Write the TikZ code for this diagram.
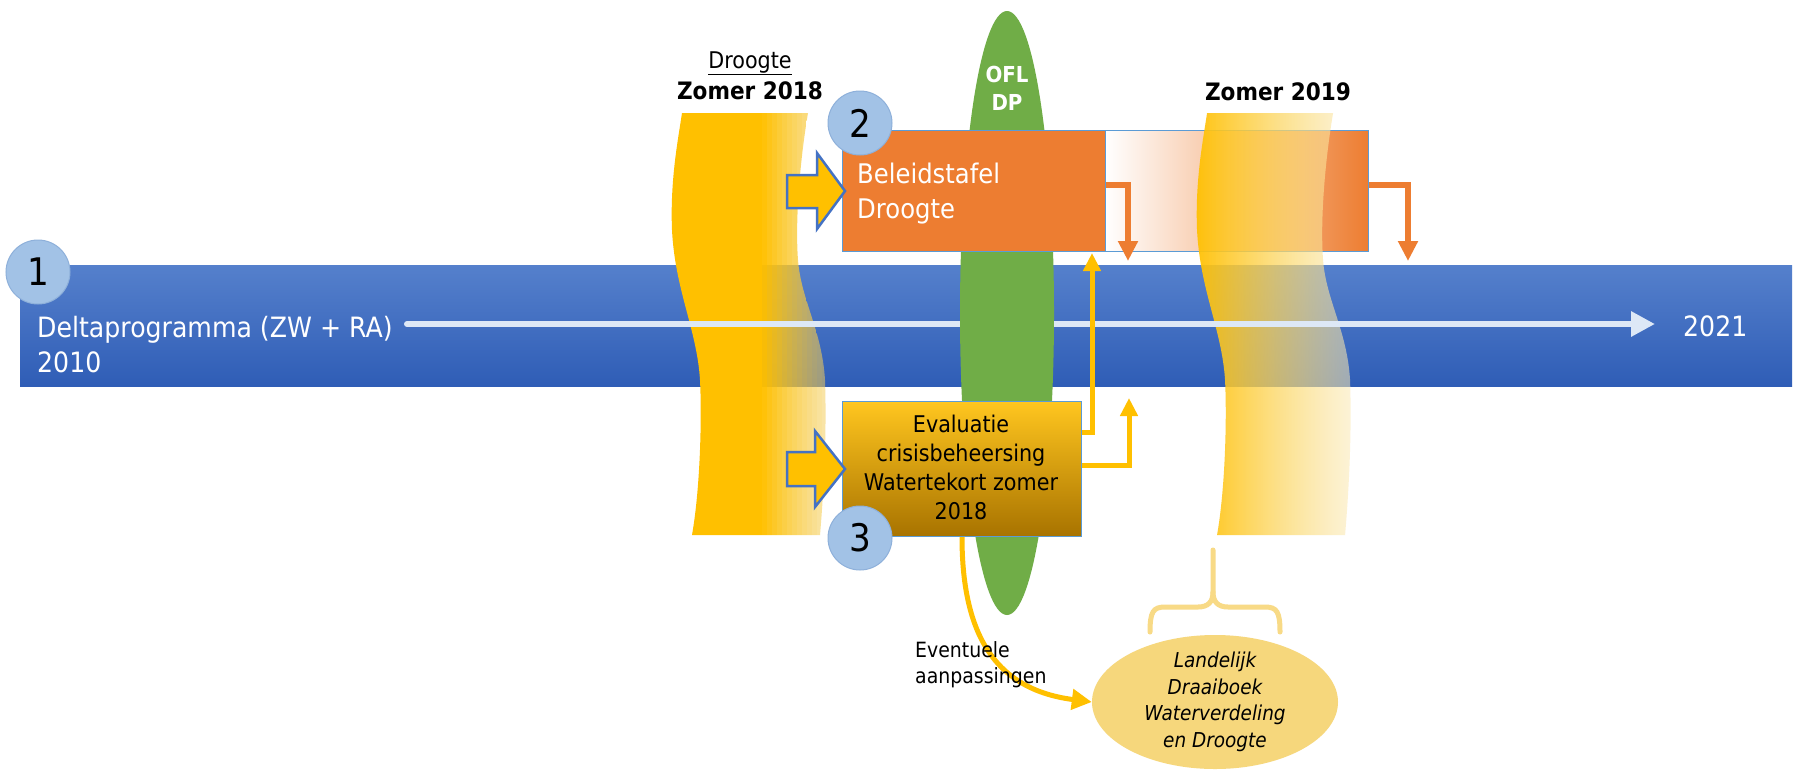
\documentclass[tikz,border=0pt]{standalone}
\usepackage{fontspec}
\setmainfont{DejaVu Sans}[FakeStretch=0.9]
\usetikzlibrary{arrows.meta,shapes.geometric,fadings,calc}

\definecolor{bandTop}{HTML}{5580CC}
\definecolor{bandBot}{HTML}{2F5DB6}
\definecolor{myOrange}{HTML}{ED7D31}
\definecolor{myGold}{HTML}{FFC000}
\definecolor{paleGold}{HTML}{F3CF62}
\definecolor{midGold}{HTML}{F9E29A}
\definecolor{cream}{HTML}{FAEAB8}
\definecolor{myGreen}{HTML}{70AD47}
\definecolor{circBlue}{HTML}{A2C2E6}
\definecolor{circEdge}{HTML}{8EB0DA}
\definecolor{outl}{HTML}{5B9BD5}
\definecolor{arrowEdge}{HTML}{4472C4}
\definecolor{whiteArrow}{HTML}{DDE8F6}
\definecolor{evalTop}{HTML}{FFC61F}
\definecolor{evalMid}{HTML}{F5B800}
\definecolor{evalBot}{HTML}{A87300}
\definecolor{ellFill}{HTML}{F6D77C}
\definecolor{braceCol}{HTML}{F8DA86}

\tikzfading[name=fadeRightWave, left color=transparent!5, right color=transparent!45]

\tikzset{
  wavepath/.style={insert path={(682,113) -- (808,113)
      .. controls (800,160) and (795,220) .. (798,260)
      .. controls (801,300) and (822,330) .. (825,380)
      .. controls (827,440) and (823,500) .. (820,535)
      -- (692,535)
      .. controls (700,490) and (702,420) .. (700,380)
      .. controls (697,330) and (675,290) .. (672,230)
      .. controls (670,180) and (678,140) .. (682,113) -- cycle}},
  boxbase/.style={rectangle, inner sep=0, anchor=north west, draw=outl, line width=1},
  blockarrow/.style={fill=myGold, draw=arrowEdge, line width=2.5, line join=miter},
  oarrow/.style={draw=myOrange, line width=6, -{Triangle[width=19pt,length=20pt]}},
  yarrow/.style={draw=myGold, line width=5, -{Triangle[width=17pt,length=18pt]}},
  numbadge/.style={circle, fill=circBlue, draw=circEdge, line width=1, minimum size=64, inner sep=0, font=\fontsize{38}{38}\selectfont},
  wtext/.style={text=white, inner sep=0},
  btext/.style={text=black, inner sep=0},
}

\begin{document}
\begin{tikzpicture}[x=1pt,y=-1pt]
\useasboundingbox (0,0) rectangle (1799,769);
\fill[white] (0,0) rectangle (1799,769);

% timeline band
\node[rectangle, inner sep=0, minimum width=1772, minimum height=121, top color=bandTop, bottom color=bandBot, anchor=north west] (band) at (20,265) {};

% left drought wave: opaque gold, right part fading to half transparent
\begin{scope}
\clip[wavepath];
\fill[myGold] (660,100) rectangle (762,550);
\foreach \i in {0,...,13} {
  \pgfmathsetmacro\op{1-0.5*(\i+1)/14}
  \pgfmathsetmacro\mx{100-100*\i/13}
  \fill[myGold!\mx!paleGold, opacity=\op] (762+5*\i,100) rectangle (767+5*\i,550);
}
\end{scope}

% fading extension of policy box
\node[boxbase, minimum width=263, minimum height=121, left color=white, right color=myOrange] (box2x) at (1105,130) {};

% right wave (Zomer 2019)
\begin{scope}[xshift=525pt]
\path[wavepath, left color=myGold, middle color=midGold, right color=cream, path fading=fadeRightWave];
\end{scope}

% white timeline arrow
\coordinate (tlstart) at (407,324);
\coordinate (tlend) at (1655,324);
\draw[whiteArrow, line width=6, line cap=round, -{Triangle[width=24pt,length=24pt]}] (tlstart) -- (tlend);

% green OFL/DP ellipse
\node[ellipse, fill=myGreen, minimum width=94, minimum height=604, inner sep=0] (ofl) at (1007,313) {};

% Beleidstafel box
\node[boxbase, minimum width=263, minimum height=121, fill=myOrange] (box2) at (842,130) {};

% Evaluatie box
\node[boxbase, minimum width=239, minimum height=135, top color=evalTop, middle color=evalMid, bottom color=evalBot] (box3) at (842,401) {};

% block arrows from the drought wave
\filldraw[blockarrow] (787,175) -- (817,175) -- (817,153) -- (845,191) -- (817,229) -- (817,208) -- (787,208) -- cycle;
\filldraw[blockarrow] (787,452) -- (815,452) -- (815,431) -- (845,469) -- (815,507) -- (815,486) -- (787,486) -- cycle;

% orange arrows
\coordinate (o1end) at (1128,261);
\coordinate (o2end) at (1408,261);
\draw[oarrow] ([yshift=6pt]box2.east) -| (o1end);
\draw[oarrow] ([yshift=6pt]box2x.east) -| (o2end);

% yellow arrows
\coordinate (y1end) at (1092,253);
\coordinate (y2end) at (1129,398);
\draw[yarrow] ([yshift=36.5pt]box3.east) -| (y1end);
\draw[yarrow] ([yshift=3.5pt]box3.east) -| (y2end);

% Landelijk draaiboek ellipse
\node[ellipse, fill=ellFill, minimum width=246, minimum height=134, inner sep=0] (ld) at (1215,702) {};

% brace
\draw[braceCol, line width=5, line cap=round] (1150,632) .. controls (1150,612) and (1153,607) .. (1165,607) -- (1198,607) .. controls (1208,607) and (1213,602) .. (1213,592) -- (1213,550);
\draw[braceCol, line width=5, line cap=round] (1280,632) .. controls (1280,612) and (1277,607) .. (1265,607) -- (1228,607) .. controls (1218,607) and (1213,602) .. (1213,592);

% curved arrow
\draw[draw=myGold, line width=5, -{Triangle[width=20pt,length=20pt]}] (box3.south) .. controls +(0,104) and +(-92,-12) .. (ld.west);

% number badges
\node[numbadge] (c1) at (38,272) {1};
\node[numbadge] (c2) at (860,123) {2};
\node[numbadge] (c3) at (860,538) {3};

% texts (base anchor = baseline of the last line)
\node[wtext, anchor=base west, align=left, font=\fontsize{28}{35}\selectfont] (tdelta) at (37,372) {Deltaprogramma (ZW + RA)\\2010};
\node[wtext, anchor=base west, font=\fontsize{28}{35}\selectfont] (t2021) at (1683,336) {2021};
\node[btext, anchor=base, font=\fontsize{23}{28}\selectfont] (tdroogte) at (750,68) {\underline{Droogte}};
\node[btext, anchor=base, font=\bfseries\fontsize{24}{28}\selectfont] (tz18) at (750,99) {Zomer 2018};
\node[btext, anchor=base, font=\bfseries\fontsize{24}{28}\selectfont] (tz19) at (1278,100) {Zomer 2019};
\node[wtext, anchor=base, align=center, font=\bfseries\fontsize{22}{28}\selectfont] (tofl) at (1007,110) {OFL\\DP};
\node[wtext, anchor=base west, align=left, font=\fontsize{27}{35}\selectfont] (tbel) at (857,218) {Beleidstafel\\Droogte};
\node[btext, anchor=base, align=center, font=\fontsize{23}{29}\selectfont] (teval) at (961,519) {Evaluatie\\crisisbeheersing\\Watertekort zomer\\2018};
\node[btext, anchor=base west, align=left, font=\fontsize{21}{26}\selectfont] (tevent) at (915,683) {Eventuele\\aanpassingen};
\node[btext, align=center, font=\itshape\fontsize{20.5}{26.5}\selectfont] (tld) at (ld.center) {Landelijk\\Draaiboek\\Waterverdeling\\en Droogte};
\end{tikzpicture}
\end{document}
